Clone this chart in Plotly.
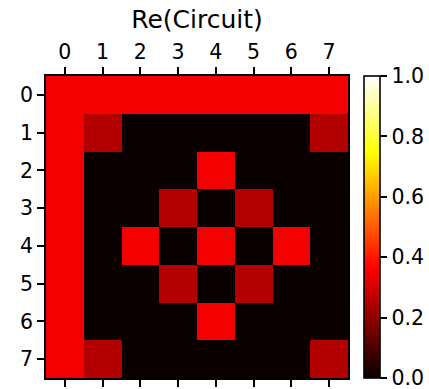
import numpy as np
import plotly.graph_objects as go

# Real part of the 8x8 circuit unitary
row_labels = ["0", "1", "2", "3", "4", "5", "6", "7"]
col_labels = ["0", "1", "2", "3", "4", "5", "6", "7"]
a = 0.35  # bright cells, about 1/sqrt(8)
b = 0.25
re_values = [
    [a, a, a, a, a, a, a, a],
    [a, b, 0, 0, 0, 0, 0, b],
    [a, 0, 0, 0, a, 0, 0, 0],
    [a, 0, 0, b, 0, b, 0, 0],
    [a, 0, a, 0, a, 0, a, 0],
    [a, 0, 0, b, 0, b, 0, 0],
    [a, 0, 0, 0, a, 0, 0, 0],
    [a, b, 0, 0, 0, 0, 0, b],
]
cbar_ticks = [0.0, 0.2, 0.4, 0.6, 0.8, 1.0]

# matplotlib "hot" colormap
hot = [
    [0.0, "rgb(10,0,0)"],
    [0.365079, "rgb(255,0,0)"],
    [0.746032, "rgb(255,255,0)"],
    [1.0, "rgb(255,255,255)"],
]

W, H = 429, 389
L, R, T, B = 46, 81, 76, 11
plot_w = W - L - R

font = dict(family="DejaVu Sans", size=20.5, color="black")
line_w = 1.6
tick_len = 7

fig = go.Figure(
    go.Heatmap(
        z=re_values,
        x=list(range(len(col_labels))),
        y=list(range(len(row_labels))),
        colorscale=hot,
        zmin=0,
        zmax=1,
        colorbar=dict(
            x=1 + (363.5 - (W - R)) / plot_w,
            xanchor="left",
            xpad=0,
            ypad=0,
            y=0.5,
            len=1,
            lenmode="fraction",
            thickness=16,
            thicknessmode="pixels",
            outlinewidth=line_w,
            outlinecolor="black",
            tickvals=cbar_ticks,
            ticktext=[f"{v:.1f}" for v in cbar_ticks],
            ticks="outside",
            ticklen=tick_len,
            tickwidth=line_w,
            tickcolor="black",
            tickfont=font,
            ticklabeloverflow="allow",
        ),
    )
)

axis_style = dict(
    tickvals=list(range(8)),
    ticks="outside",
    ticklen=tick_len,
    tickwidth=line_w,
    tickcolor="black",
    showline=True,
    linecolor="black",
    linewidth=line_w,
    showgrid=False,
    zeroline=False,
    automargin=False,
    tickfont=font,
)

fig.update_xaxes(side="top", range=[-0.5, 7.5], ticktext=col_labels,
                 mirror="ticks", **axis_style)
fig.update_yaxes(range=[7.5, -0.5], ticktext=row_labels,
                 mirror=True, **axis_style)

fig.update_layout(
    width=W,
    height=H,
    margin=dict(l=L, r=R, t=T, b=B, pad=0, autoexpand=False),
    paper_bgcolor="white",
    plot_bgcolor="white",
    title=dict(
        text="Re(Circuit)",
        x=(L + plot_w / 2) / W,
        xanchor="center",
        y=1 - 19 / H,
        yanchor="middle",
        font=dict(family="DejaVu Sans", size=25, color="black"),
    ),
)

fig.write_html("out.html")
